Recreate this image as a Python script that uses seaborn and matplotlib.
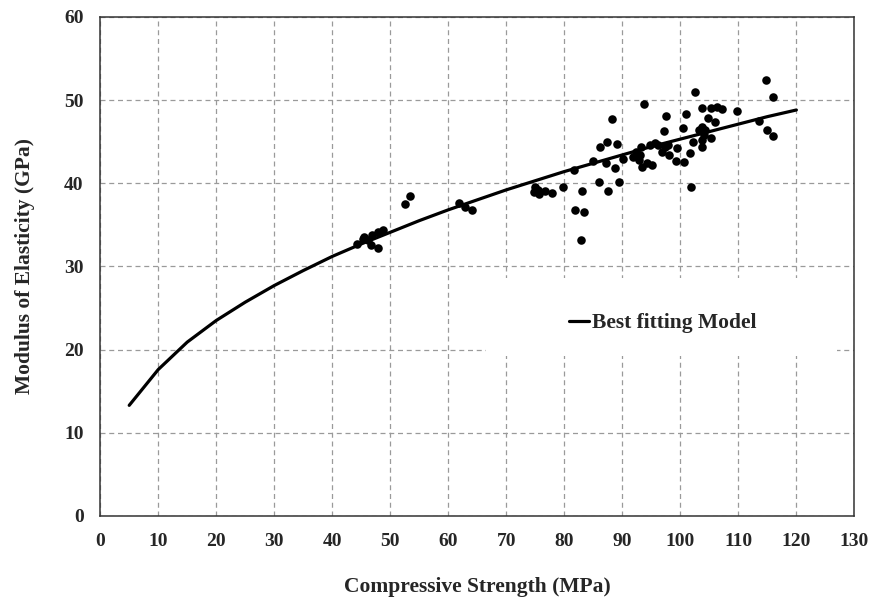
import seaborn as sns
import matplotlib.pyplot as plt
from matplotlib.patches import Rectangle
import pandas as pd

# measured points (compressive strength MPa, modulus GPa)
strength = [44.3, 45.3, 45.5, 46.2, 46.9, 46.7, 47.8, 47.9, 48.8,
            52.6, 53.4, 61.9, 62.8, 64.1,
            75.0, 74.8, 75.5, 75.7, 76.6, 77.9, 79.7, 81.6, 83.1, 81.9, 83.4, 82.8,
            85.0, 86.2, 87.4, 89.1, 87.2, 88.8, 85.9, 87.6, 89.5, 90.2,
            88.3, 93.8, 97.6, 101.0, 97.2, 100.5, 93.3, 93.1, 92.9, 93.4, 94.3, 95.2,
            94.8, 95.7, 96.2, 96.9, 97.4, 97.9, 98.1, 99.5, 99.3, 100.7, 101.7, 102.2,
            101.9, 92.4, 91.9,
            102.6, 103.8, 105.3, 106.4, 107.2, 109.7, 104.7, 106.0, 103.8, 103.3, 104.3,
            104.0, 105.2, 103.8, 103.8, 113.6, 114.8, 116.0, 115.0, 115.9]
modulus = [32.7, 33.3, 33.5, 33.2, 33.8, 32.6, 32.2, 34.1, 34.4,
           37.5, 38.5, 37.6, 37.1, 36.8,
           39.5, 38.9, 39.2, 38.7, 39.1, 38.8, 39.5, 41.6, 39.1, 36.8, 36.5, 33.2,
           42.7, 44.4, 45.0, 44.7, 42.4, 41.8, 40.1, 39.1, 40.1, 42.9,
           47.7, 49.5, 48.1, 48.3, 46.3, 46.6, 44.4, 43.4, 42.8, 41.9, 42.4, 42.2,
           44.6, 44.8, 44.6, 43.8, 44.4, 44.6, 43.4, 44.2, 42.7, 42.5, 43.6, 45.0,
           39.5, 43.8, 43.1,
           51.0, 49.0, 49.0, 49.2, 48.9, 48.7, 47.8, 47.4, 46.8, 46.4, 46.4,
           45.8, 45.4, 45.2, 44.4, 47.5, 52.4, 50.4, 46.4, 45.7]

# best fitting model curve
model_fc = [5, 10, 15, 20, 25, 30, 35, 40, 45, 50, 55, 60, 65, 70, 75, 80,
            85, 90, 95, 100, 105, 110, 115, 120]
model_e = [13.3, 17.6, 20.9, 23.5, 25.7, 27.7, 29.5, 31.2, 32.7, 34.1, 35.5, 36.8,
           38.0, 39.2, 40.3, 41.4, 42.4, 43.4, 44.4, 45.3, 46.2, 47.1, 48.0, 48.8]

pts = pd.DataFrame({'fc': strength, 'E': modulus})
fit = pd.DataFrame({'fc': model_fc, 'E': model_e})

sns.set_style("white")
plt.rcParams['font.family'] = ['Liberation Serif', 'DejaVu Serif']
plt.rcParams['font.weight'] = 'bold'

fig = plt.figure(figsize=(8.79, 6), dpi=100)
ax = fig.add_axes([0.114, 0.14, 0.858, 0.832])

sns.scatterplot(x='fc', y='E', data=pts, ax=ax, color='black', s=38,
                edgecolor='black', linewidth=0, zorder=3)
sns.lineplot(x='fc', y='E', data=fit, ax=ax, color='black', linewidth=2.3,
             label='Best fitting Model', zorder=4, legend=False)

ax.set_xlim(0, 130)
ax.set_ylim(0, 60)
ax.set_xticks(range(0, 131, 10))
ax.set_yticks(range(0, 61, 10))
ax.set_axisbelow(True)
ax.grid(True, color='#9a9a9a', linestyle=(0, (4, 3)), linewidth=0.9)
ax.tick_params(axis='both', labelsize=14, length=4, color='#9a9a9a', width=0.8, pad=8)
for lab in ax.get_xticklabels() + ax.get_yticklabels():
    lab.set_fontweight('bold')
for sp in ax.spines.values():
    sp.set_color('#333333')
    sp.set_linewidth(1.1)

ax.set_xlabel('Compressive Strength (MPa)', fontsize=15.5, fontweight='bold', labelpad=20)
ax.set_ylabel('Modulus of Elasticity (GPa)', fontsize=15.5, fontweight='bold', labelpad=21)

# white box behind the legend hides the grid
ax.add_patch(Rectangle((0.511, 0.321), 0.466, 0.156, transform=ax.transAxes,
                       facecolor='white', edgecolor='none', zorder=1))
leg = ax.legend(*ax.get_legend_handles_labels(), loc='center left',
                bbox_to_anchor=(0.621, 0.386), frameon=False, borderpad=0,
                borderaxespad=0, handlelength=0.95, handletextpad=0.15,
                prop={'size': 15.5, 'weight': 'bold'})

fig.savefig('out.png', dpi=100)
